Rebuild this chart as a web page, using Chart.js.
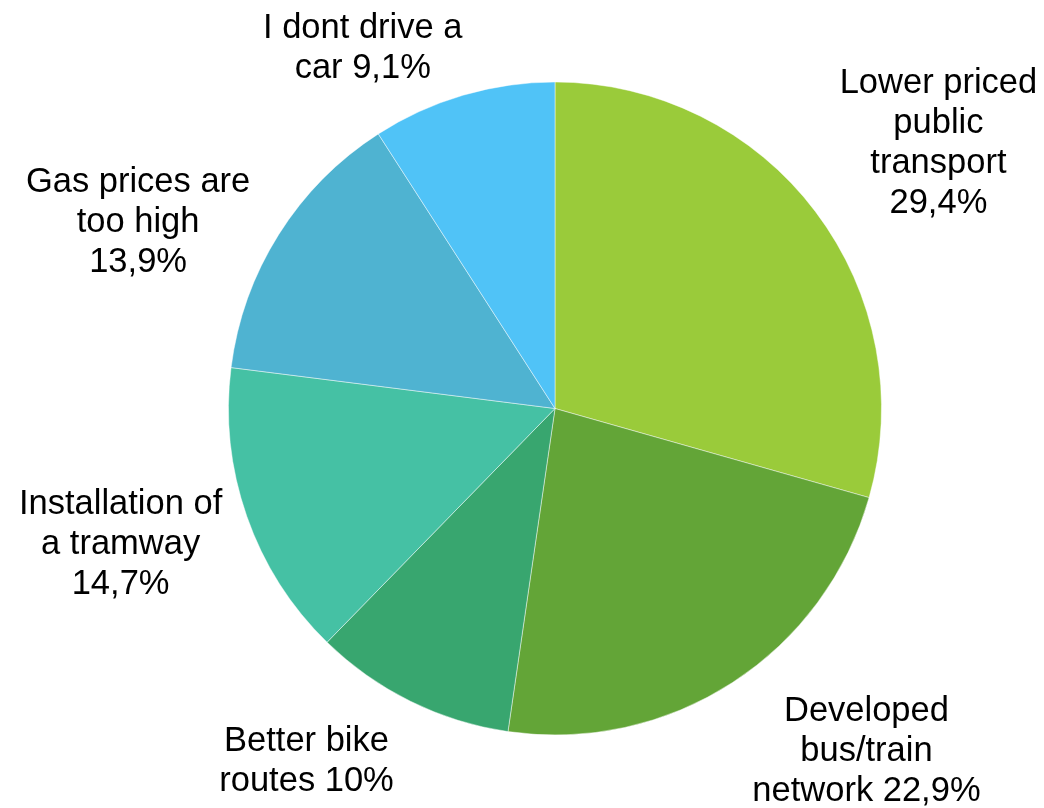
<!DOCTYPE html>
<html lang="en">
    <head>
        <meta charset="UTF-8" />
        <title>Transport preferences</title>
        <script src="https://cdn.jsdelivr.net/npm/chart.js"></script>
        <style>
            html, body {
                margin: 0;
                padding: 0;
                background: #ffffff;
            }
            .chart-container {
                width: 1044px;
                height: 808px;
                position: relative;
            }
        </style>
    </head>
    <body>
        <div class="chart-container">
            <canvas id="pieChart"></canvas>
        </div>

        <script>
            // data, clockwise from the top
            const categories = [
                "Lower priced public transport",
                "Developed bus/train network",
                "Better bike routes",
                "Installation of a tramway",
                "Gas prices are too high",
                "I dont drive a car",
            ];
            const shares = [29.4, 22.9, 10, 14.7, 13.9, 9.1];
            // how each label is wrapped, {v} is the value
            const labelLines = [
                ["Lower priced", "public", "transport", "{v}"],
                ["Developed", "bus/train", "network {v}"],
                ["Better bike", "routes {v}"],
                ["Installation of", "a tramway", "{v}"],
                ["Gas prices are", "too high", "{v}"],
                ["I dont drive a", "car {v}"],
            ];
            const sliceColors = [
                "#9acb3a",
                "#63a537",
                "#38a66f",
                "#45c1a4",
                "#4fb3d1",
                "#50c3f7",
            ];

            // label placement: [angle shift in degrees, distance in radii]
            const labelPlacement = [
                [2.4, 1.428],
                [-9.3, 1.419],
                [8.9, 1.321],
                [1.9, 1.394],
                [-8.2, 1.398],
                [-11.7, 1.251],
            ];

            function fmt(v) {
                return String(v).replace(".", ",") + "%";
            }

            const outsideLabels = {
                id: "outsideLabels",
                afterDatasetsDraw(chart) {
                    const ctx = chart.ctx;
                    const arcs = chart.getDatasetMeta(0).data;
                    const lineH = 40;
                    ctx.save();
                    ctx.font = '34.5px "Liberation Sans", Arial, sans-serif';
                    ctx.fillStyle = "#000000";
                    ctx.textAlign = "center";
                    ctx.textBaseline = "middle";
                    arcs.forEach((arc, i) => {
                        const p = arc.getProps(
                            ["x", "y", "startAngle", "endAngle", "outerRadius"],
                            true
                        );
                        const [shift, dist] = labelPlacement[i];
                        const a =
                            (p.startAngle + p.endAngle) / 2 +
                            (shift * Math.PI) / 180;
                        const cx = p.x + Math.cos(a) * p.outerRadius * dist;
                        const cy = p.y + Math.sin(a) * p.outerRadius * dist;
                        const lines = labelLines[i].map((s) =>
                            s.replace("{v}", fmt(shares[i]))
                        );
                        const top = cy - ((lines.length - 1) * lineH) / 2;
                        lines.forEach((s, k) => {
                            ctx.fillText(s, cx, top + k * lineH);
                        });
                    });
                    ctx.restore();
                },
            };

            const ctx = document.getElementById("pieChart").getContext("2d");
            new Chart(ctx, {
                type: "pie",
                data: {
                    labels: categories,
                    datasets: [
                        {
                            data: shares,
                            backgroundColor: sliceColors,
                            borderColor: "rgba(255,255,255,0.45)",
                            borderWidth: 1,
                        },
                    ],
                },
                options: {
                    responsive: true,
                    maintainAspectRatio: false,
                    animation: false,
                    layout: {
                        padding: { left: 228, right: 162, top: 81.5, bottom: 72.5 },
                    },
                    plugins: {
                        legend: { display: false },
                        tooltip: { enabled: false },
                    },
                },
                plugins: [outsideLabels],
            });
        </script>
    </body>
</html>
